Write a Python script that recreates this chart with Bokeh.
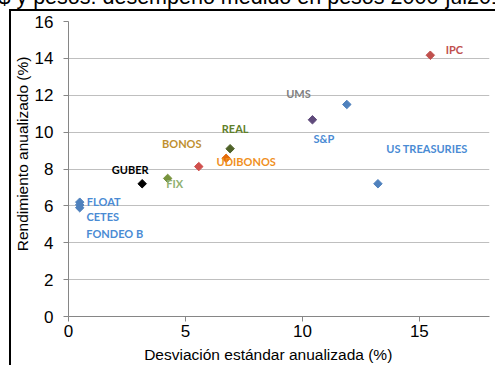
from bokeh.plotting import figure
from bokeh.models import ColumnDataSource, Range1d, FixedTicker, InlineStyleSheet
from bokeh.core.properties import value
from bokeh.embed import file_html
from bokeh.resources import INLINE

names = ["IPC", "UMS", "S&P", "US TREASURIES", "REAL", "UDIBONOS", "BONOS",
         "FIX", "GUBER", "FLOAT", "CETES", "FONDEO B"]
desviacion = [15.47, 10.43, 11.90, 13.23, 6.91, 6.74, 5.57, 4.24, 3.15, 0.48, 0.48, 0.48]
rendimiento = [14.17, 10.67, 11.50, 7.20, 9.10, 8.58, 8.13, 7.49, 7.20, 6.20, 6.05, 5.90]
marker_colors = ["#C0504D", "#5F4A7B", "#4F81BD", "#4F81BD", "#4F6228", "#E46C0A",
                 "#D0504D", "#77933C", "#000000", "#4F81BD", "#4F81BD", "#4F81BD"]
label_colors = ["#C0504D", "#7F7F7F", "#4A8BD4", "#4A8BD4", "#5F7F2A", "#F0901E",
                "#C09030", "#90B070", "#000000", "#4A8BD4", "#4A8BD4", "#4A8BD4"]
x_ticks = [0, 5, 10, 15]
y_ticks = [0, 2, 4, 6, 8, 10, 12, 14, 16]
title_text = "$ y pesos: desempeño medido en pesos 2000-jul2014"
x_title = "Desviación estándar anualizada (%)"
y_title = "Rendimiento anualizado (%)"

# label offsets in pixels (style, not data)
label_dx = [24, -14, -23, 49, 5, 20, -17, 7, -12, 24, 23, 35]
label_dy = [-6, -26, 34, -35, -20, 3, -23, 5, -14, -1, 12, 26]

src = ColumnDataSource(dict(x=desviacion, y=rendimiento, name=names, mc=marker_colors,
                            lc=label_colors, dx=label_dx, dy=label_dy))

SHIFT = 33  # figure is moved up so that the title is cut like in the original
css = InlineStyleSheet(css=f"""
:host {{ position: relative; }}
:host::after {{
  content: ""; position: absolute; left: 9px; top: {9 + SHIFT}px;
  width: calc(100% - 9px); height: calc(100% - {9 + SHIFT}px);
  border-left: 2.5px solid #000; border-top: 2.5px solid #000;
  box-sizing: border-box; pointer-events: none; z-index: 10;
}}
""")

p = figure(width=495, height=365 + SHIFT, output_backend="svg", toolbar_location=None,
           x_range=Range1d(0, 18), y_range=Range1d(0, 16),
           min_border_left=68, min_border_right=6, min_border_top=21 + SHIFT,
           min_border_bottom=46, margin=(-SHIFT, 0, 0, 0), stylesheets=[css])
p.outline_line_color = None
p.background_fill_color = "white"
p.border_fill_color = "white"

p.title.text = title_text
p.title.text_font = "Liberation Sans"
p.title.text_font_style = "normal"
p.title.text_font_size = "21.5px"
p.title.text_color = "#000000"
p.title.align = "left"
p.title.offset = -70
p.title.standoff = 25
p.title.vertical_align = "bottom"

p.xgrid.visible = False
p.ygrid.grid_line_color = "#BFBFBF"
p.ygrid.grid_line_width = 1

for ax in (p.xaxis[0], p.yaxis[0]):
    ax.axis_line_color = "#868686"
    ax.major_tick_line_color = "#868686"
    ax.major_tick_out = 5
    ax.major_tick_in = 0
    ax.minor_tick_line_color = None
    ax.major_label_text_font = "Liberation Sans"
    ax.major_label_text_font_size = "17px"
    ax.major_label_text_color = "#000000"
    ax.axis_label_text_font = "Liberation Sans"
    ax.axis_label_text_font_size = "15.5px"
    ax.axis_label_text_font_style = "normal"
    ax.axis_label_text_color = "#000000"

p.xaxis.ticker = FixedTicker(ticks=x_ticks)
p.yaxis.ticker = FixedTicker(ticks=y_ticks)
p.xaxis.axis_label = x_title + "\u00a0" * 5
p.yaxis.axis_label = "\u00a0" * 7 + y_title
p.xaxis.major_label_standoff = 3
p.yaxis.major_label_standoff = 10
p.xaxis.axis_label_standoff = 6
p.yaxis.axis_label_standoff = 1

p.scatter("x", "y", source=src, marker="square", angle=0.785398, size=6,
          fill_color="mc", line_color="mc")
p.text("x", "y", text="name", source=src, x_offset="dx", y_offset="dy",
       text_color="lc", text_font=value("Lato"), text_font_style="bold",
       text_font_size="11px", text_align="center", text_baseline="middle")

open("out.html", "w").write(file_html(p, INLINE))
